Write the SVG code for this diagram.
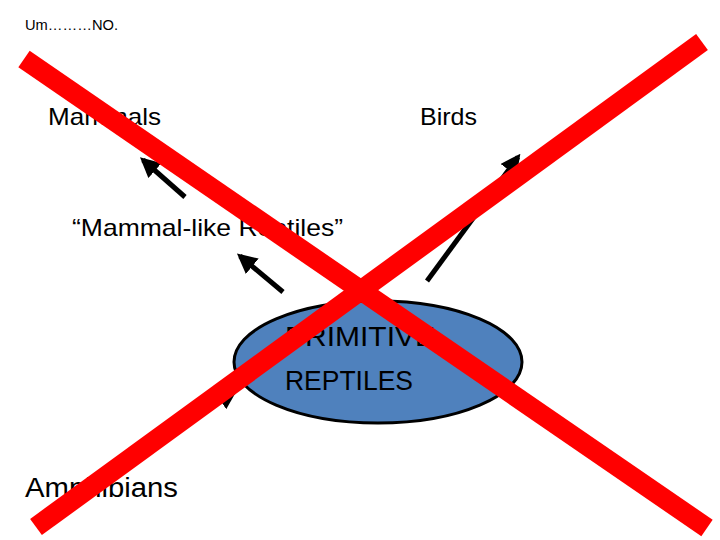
<svg xmlns="http://www.w3.org/2000/svg" width="720" height="540" viewBox="0 0 720 540">
<defs>
<marker id="ah" viewBox="0 0 10 10" refX="8" refY="5" markerWidth="4" markerHeight="4" orient="auto" markerUnits="strokeWidth">
<path d="M0,0 L10,5 L0,10 Z" fill="#000"/>
</marker>
<style>
text{font-family:"Liberation Sans",Arial,sans-serif;fill:#000}
.arrow{stroke:#000;stroke-width:5;fill:none;marker-end:url(#ah)}
.x{stroke:#FF0000;stroke-width:20;stroke-linecap:butt}
</style>
</defs>
<rect width="720" height="540" fill="#fff"/>
<text x="25" y="30" font-size="15" textLength="93" lengthAdjust="spacingAndGlyphs">Um………NO.</text>
<g id="connectors">
<line class="arrow" x1="185" y1="197" x2="143" y2="160"/>
<line class="arrow" x1="283" y1="292" x2="240" y2="256"/>
<line class="arrow" x1="427" y1="281" x2="518" y2="157"/>
<line class="arrow" x1="150" y1="448" x2="234" y2="392"/>
</g>
<g id="mammals"><text x="48" y="125" font-size="24" textLength="113" lengthAdjust="spacingAndGlyphs">Mammals</text></g>
<g id="birds"><text x="420" y="125" font-size="24" textLength="57" lengthAdjust="spacingAndGlyphs">Birds</text></g>
<g id="mammal-like"><text x="72" y="236" font-size="24" textLength="271" lengthAdjust="spacingAndGlyphs">“Mammal-like Reptiles”</text></g>
<g id="primitive-reptiles">
<ellipse cx="378" cy="362" rx="144" ry="61" fill="#4F81BD" stroke="#000" stroke-width="3"/>
<text x="285" y="346" font-size="28" textLength="150" lengthAdjust="spacingAndGlyphs">PRIMITIVE</text>
<text x="285" y="390" font-size="28" textLength="128" lengthAdjust="spacingAndGlyphs">REPTILES</text>
</g>
<g id="amphibians"><text x="25" y="497" font-size="27" textLength="153" lengthAdjust="spacingAndGlyphs">Amphibians</text></g>
<g id="cross">
<line class="x" x1="24" y1="59" x2="707" y2="528"/>
<line class="x" x1="702" y1="42" x2="36" y2="527"/>
</g>
</svg>
